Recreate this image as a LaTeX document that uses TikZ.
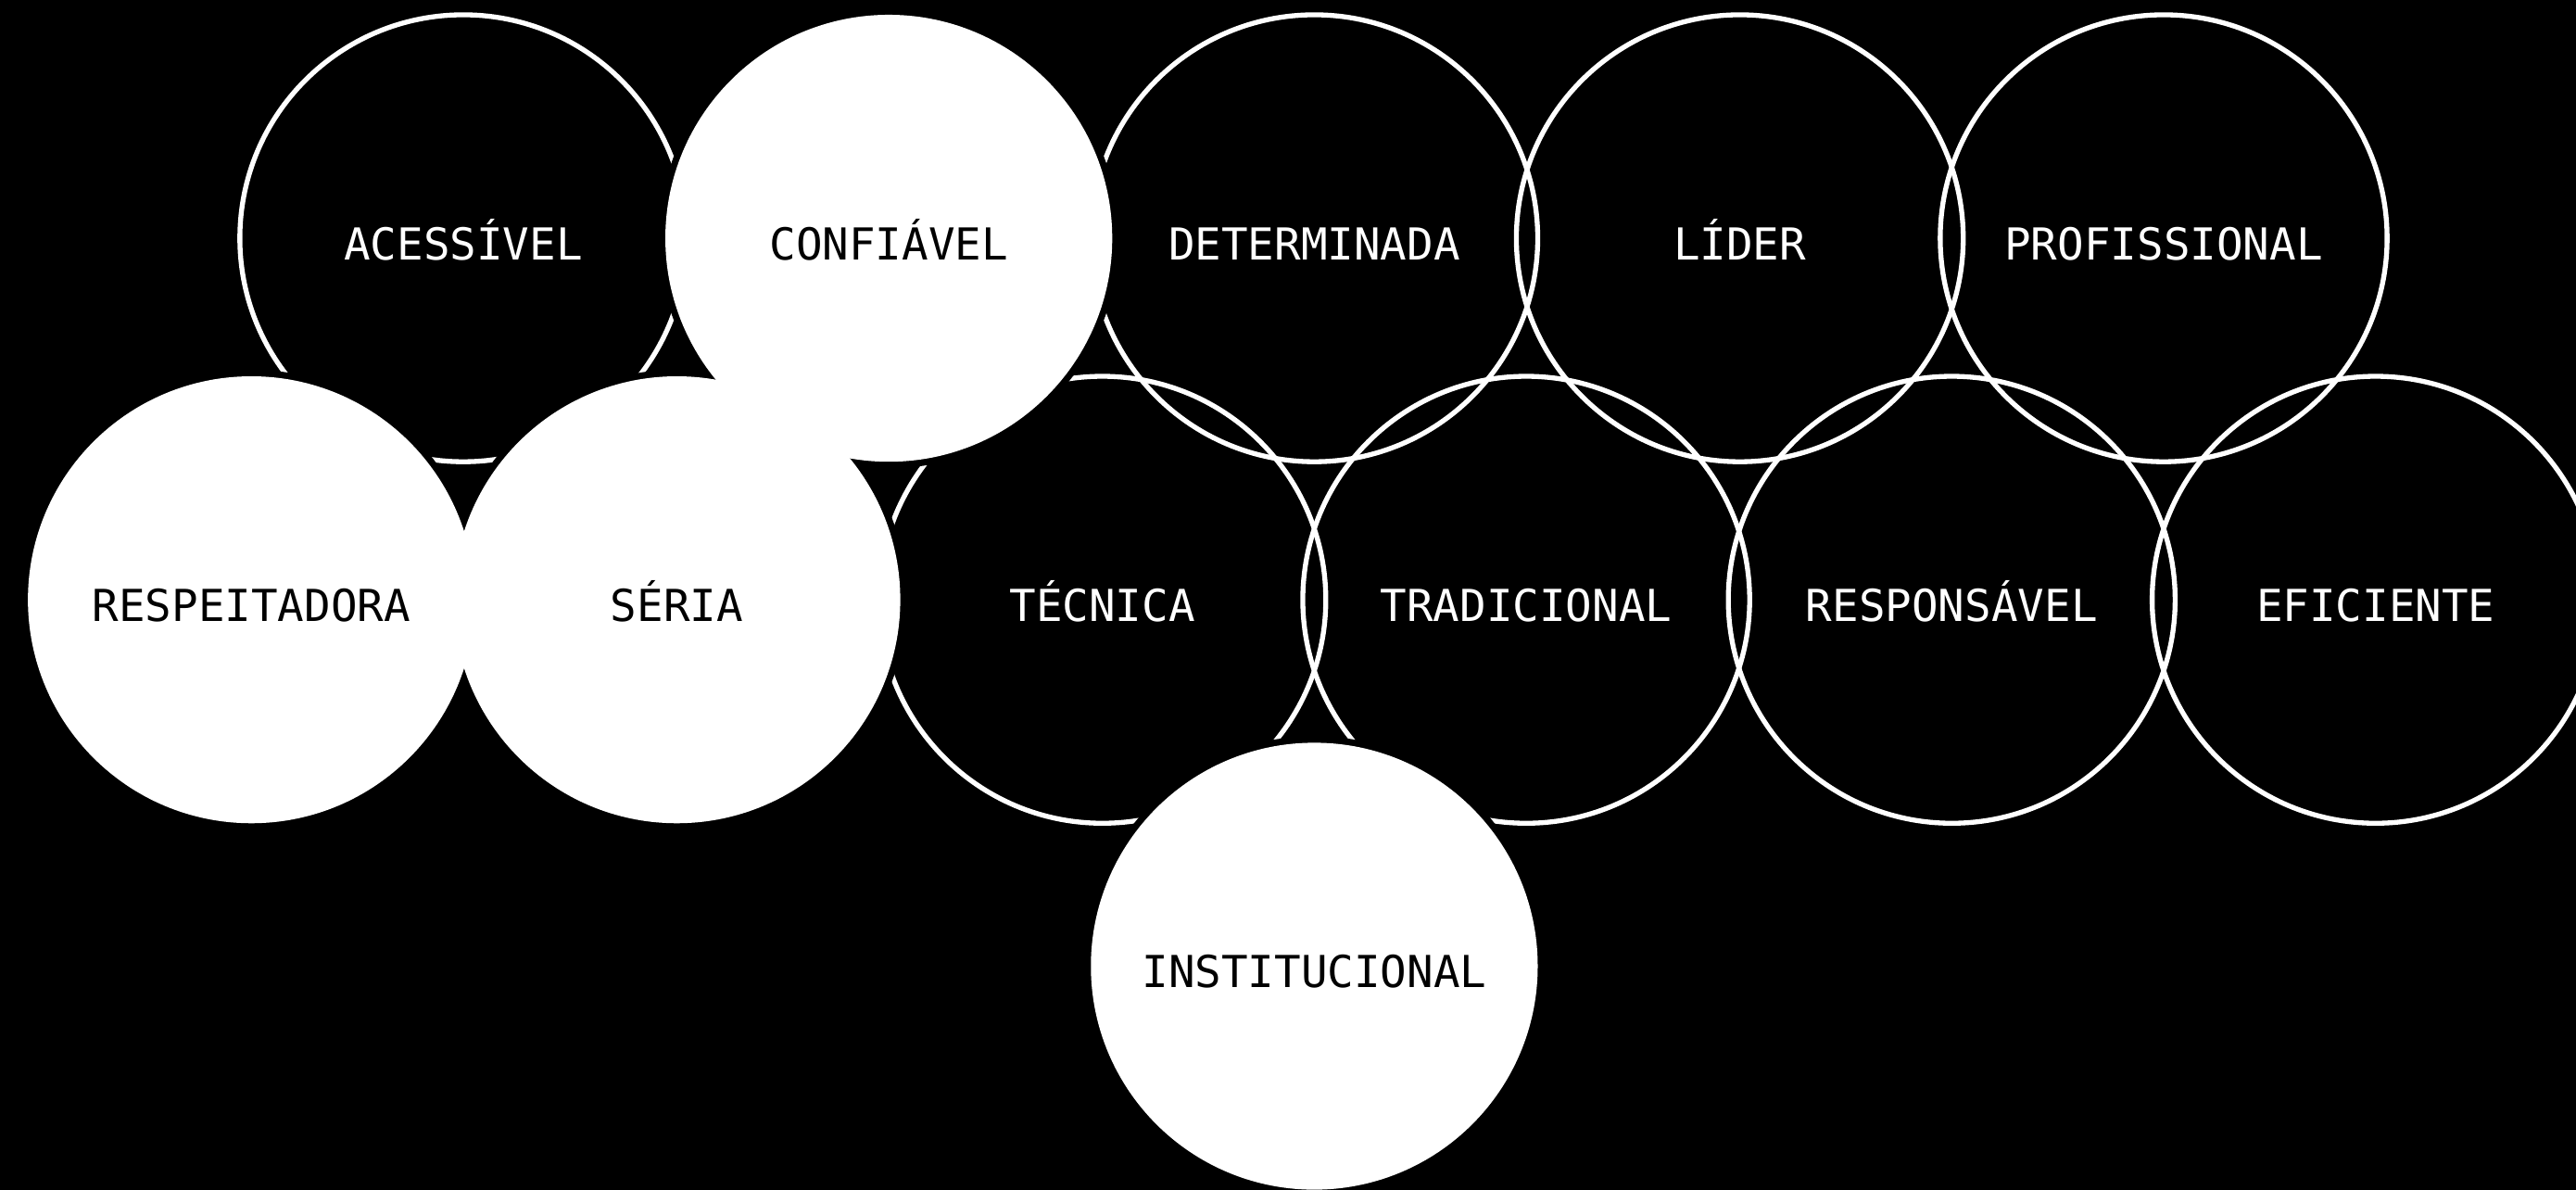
\documentclass[tikz,border=0pt]{standalone}
\usepackage{fontspec}
\newfontfamily\wordfont{DejaVu Sans Mono}
\usepackage{tikz}

\pgfdeclarelayer{rings}
\pgfdeclarelayer{halo}
\pgfsetlayers{rings,halo,main}

\tikzset{
  word/.style={circle, minimum size=136pt, inner sep=0pt, text height=13pt, text depth=0pt,
    font=\wordfont\fontsize{13.4}{16}\selectfont},
  ring/.style={word, draw=white, line width=1.5pt, text=white},
  disc/.style={word, fill=white, text=black}
}

\begin{document}
\begin{tikzpicture}[x=0.5pt,y=0.5pt,yscale=-1,xscale=1]
%set diagram left start at 0, and has height of 724
\useasboundingbox (0,0) rectangle (1568,724);
\clip (0,0) rectangle (1568,724);

\begin{pgfonlayer}{rings}
\fill[black] (0,0) rectangle (1568,724);
%Shape: Circle outlines, top row
\node [ring] (acessivel) at (282,145) {ACESSÍVEL};
\node [ring] (determinada) at (800,145) {DETERMINADA};
\node [ring] (lider) at (1059,145) {LÍDER};
\node [ring] (profissional) at (1317,145) {PROFISSIONAL};
%Shape: Circle outlines, middle row
\node [ring] (tecnica) at (671,365) {TÉCNICA};
\node [ring] (tradicional) at (929,365) {TRADICIONAL};
\node [ring] (responsavel) at (1188,365) {RESPONSÁVEL};
\node [ring] (eficiente) at (1446,365) {EFICIENTE};
\end{pgfonlayer}

%Shape: Filled circles
\node [disc] (confiavel) at (541,145) {CONFIÁVEL};
\node [disc] (respeitadora) at (153,365) {RESPEITADORA};
\node [disc] (seria) at (412,365) {SÉRIA};
\node [disc] (institucional) at (800,588) {INSTITUCIONAL};

%black gap round the filled circles
\begin{pgfonlayer}{halo}
\foreach \n in {confiavel,respeitadora,seria,institucional}
  \fill[black] (\n.center) circle (140);
\end{pgfonlayer}

\end{tikzpicture}
\end{document}
